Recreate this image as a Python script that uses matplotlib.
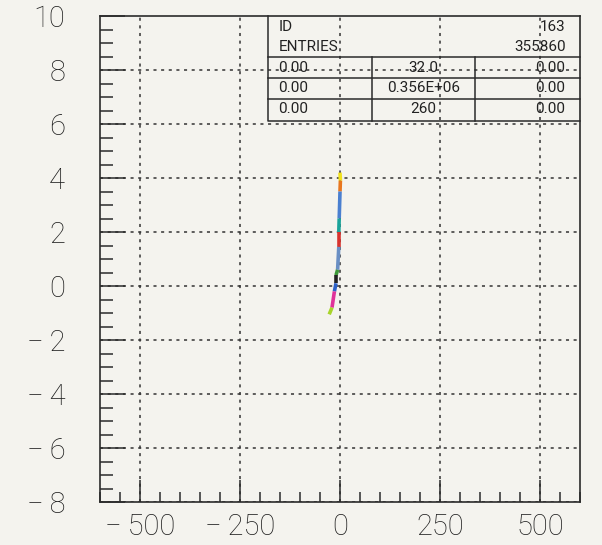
import matplotlib
matplotlib.use("Agg")
from matplotlib import pyplot as plt
from matplotlib.ticker import MultipleLocator
import numpy as np

# track points (x, y), one colour per segment
track_x = [0, 1, 0, -2, -3, -3, -6, -10, -10, -14, -20, -27]
track_y = [4.2, 3.9, 3.5, 2.5, 2.0, 1.45, 0.6, 0.4, 0.1, -0.2, -0.8, -1.05]
seg_colors = ['#f2e21c', '#e8761e', '#4a7fd0', '#1aa39a', '#d8332e', '#6a8fc4',
              '#3f9a3a', '#222222', '#2c62c9', '#e0329a', '#a8d42a']

x_ticks = [-500, -250, 0, 250, 500]
y_ticks = [-8, -6, -4, -2, 0, 2, 4, 6, 8, 10]

# statistics box (HBOOK style)
stat_id = '163'
stat_entries = '355860'
stat_rows = [['0.00', '32.0', '0.00'],
             ['0.00', '0.356E+06', '0.00'],
             ['0.00', '260', '0.00']]

paper = '#f4f3ee'
ink = '#2b2b2b'
plt.rcParams['font.family'] = ['Roboto', 'DejaVu Sans']

fig = plt.figure(figsize=(6.02, 5.45), dpi=100, facecolor=paper)
ax = fig.add_axes([100/602, 43/545, 480/602, 486/545], facecolor=paper)

for i in range(len(track_x) - 1):
    ax.plot(track_x[i:i+2], track_y[i:i+2], color=seg_colors[i], lw=2.6,
            solid_capstyle='butt', zorder=3)

ax.set_xlim(-600, 600)
ax.set_ylim(-8, 10)
ax.set_xticks(x_ticks)
ax.set_yticks(y_ticks)
ax.set_xticklabels([str(v).replace('-', '\u2212\u2009') for v in x_ticks])
ax.set_yticklabels([str(v).replace('-', '\u2212\u2009') for v in y_ticks])
ax.xaxis.set_minor_locator(MultipleLocator(50))
ax.yaxis.set_minor_locator(MultipleLocator(0.5))

ax.tick_params(axis='x', which='major', direction='in', length=16, width=1.1,
               pad=8, labelsize=21, top=False)
ax.tick_params(axis='x', which='minor', direction='in', length=7, width=1.1, top=False)
ax.tick_params(axis='y', which='major', direction='in', length=18, width=1.1,
               pad=25, labelsize=21, right=False)
ax.tick_params(axis='y', which='minor', direction='in', length=9, width=1.1, right=False)
ax.tick_params(which='both', color=ink)
for lab in ax.get_xticklabels() + ax.get_yticklabels():
    lab.set_fontweight('light')
    lab.set_color('#1e1e1e')

ax.grid(True, which='major', color='#333333', lw=1.1, linestyle=(0, (2, 3)))
# no grid at the top edge
for gl in ax.get_ygridlines():
    if abs(gl.get_ydata()[0] - 10) < 1e-9:
        gl.set_visible(False)

for s in ax.spines.values():
    s.set_color(ink)
    s.set_linewidth(1.2)

# stats box in axes fraction
bx0, bx1, by0, by1 = 0.349, 1.0, 0.783, 1.0
row_lines = [0.915, 0.872, 0.829]
col_lines = [0.566, 0.782]
kw = dict(color=ink, lw=1.1, transform=ax.transAxes, clip_on=False, zorder=4)
ax.plot([bx0, bx0, bx1], [by1, by0, by0], **kw)
for yl in row_lines:
    ax.plot([bx0, bx1], [yl, yl], **kw)
for xl in col_lines:
    ax.plot([xl, xl], [by0, row_lines[0]], **kw)

tkw = dict(transform=ax.transAxes, fontsize=11, color='#222222',
           va='center', zorder=5)
ax.text(0.372, 0.978, 'ID', ha='left', **tkw)
ax.text(0.970, 0.978, stat_id, ha='right', **tkw)
ax.text(0.372, 0.936, 'ENTRIES', ha='left', **tkw)
ax.text(0.970, 0.936, stat_entries, ha='right', **tkw)
row_y = [0.894, 0.851, 0.808]
for yy, row in zip(row_y, stat_rows):
    ax.text(0.372, yy, row[0], ha='left', **tkw)
    ax.text(0.674, yy, row[1], ha='center', **tkw)
    ax.text(0.970, yy, row[2], ha='right', **tkw)

fig.savefig('out.png', dpi=100, facecolor=paper)
